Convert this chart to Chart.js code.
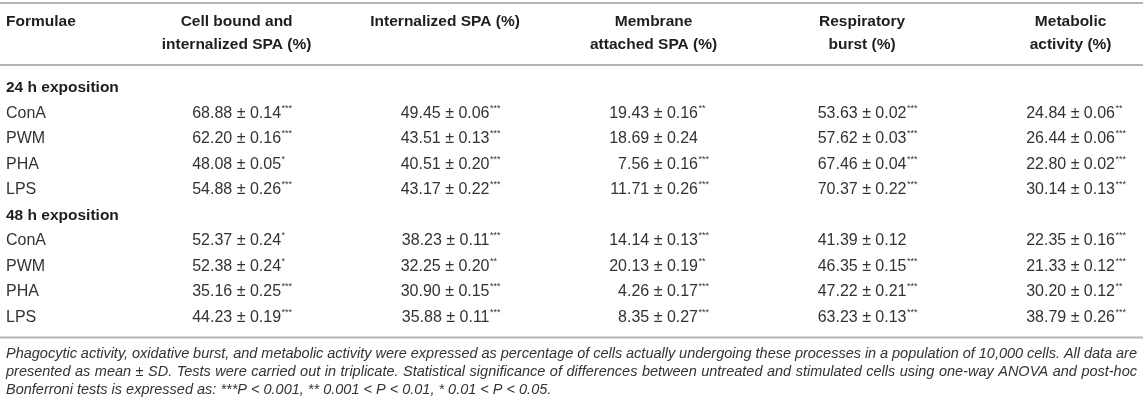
<!DOCTYPE html>
<html>
<head>
<meta charset="utf-8">
<script src="https://cdn.jsdelivr.net/npm/chart.js@4.4.1/dist/chart.umd.min.js"></script>
<style>
  html, body { margin: 0; padding: 0; background: #ffffff; }
  #wrap { width: 1143px; height: 414px; position: relative; }
</style>
</head>
<body>
<div id="wrap"><canvas id="c"></canvas></div>
<script>
// ---------------- DATA ----------------
const stubHeader = 'Formulae';
const rowLabels = ['24 h exposition', 'ConA', 'PWM', 'PHA', 'LPS',
                   '48 h exposition', 'ConA', 'PWM', 'PHA', 'LPS'];
const sectionRows = ['24 h exposition', '48 h exposition'];
const columnHeaders = [
  ['Cell bound and', 'internalized SPA (%)'],
  'Internalized SPA (%)',
  ['Membrane', 'attached SPA (%)'],
  ['Respiratory', 'burst (%)'],
  ['Metabolic', 'activity (%)']
];

// values per column (null = section heading row)
const cellBoundMean   = [null, 68.88, 62.20, 48.08, 54.88, null, 52.37, 52.38, 35.16, 44.23];
const cellBoundSD     = [null, 0.14, 0.16, 0.05, 0.26, null, 0.24, 0.24, 0.25, 0.19];
const cellBoundSig    = [null, '***', '***', '*', '***', null, '*', '*', '***', '***'];

const internalizedMean = [null, 49.45, 43.51, 40.51, 43.17, null, 38.23, 32.25, 30.90, 35.88];
const internalizedSD   = [null, 0.06, 0.13, 0.20, 0.22, null, 0.11, 0.20, 0.15, 0.11];
const internalizedSig  = [null, '***', '***', '***', '***', null, '***', '**', '***', '***'];

const membraneMean = [null, 19.43, 18.69, 7.56, 11.71, null, 14.14, 20.13, 4.26, 8.35];
const membraneSD   = [null, 0.16, 0.24, 0.16, 0.26, null, 0.13, 0.19, 0.17, 0.27];
const membraneSig  = [null, '**', '', '***', '***', null, '***', '**', '***', '***'];

const respiratoryMean = [null, 53.63, 57.62, 67.46, 70.37, null, 41.39, 46.35, 47.22, 63.23];
const respiratorySD   = [null, 0.02, 0.03, 0.04, 0.22, null, 0.12, 0.15, 0.21, 0.13];
const respiratorySig  = [null, '***', '***', '***', '***', null, '', '***', '***', '***'];

const metabolicMean = [null, 24.84, 26.44, 22.80, 30.14, null, 22.35, 21.33, 30.20, 38.79];
const metabolicSD   = [null, 0.06, 0.06, 0.02, 0.13, null, 0.16, 0.12, 0.12, 0.26];
const metabolicSig  = [null, '**', '***', '***', '***', null, '***', '***', '**', '***'];

const footnoteLines = [
  'Phagocytic activity, oxidative burst, and metabolic activity were expressed as percentage of cells actually undergoing these processes in a population of 10,000 cells. All data are',
  'presented as mean \u00b1 SD. Tests were carried out in triplicate. Statistical significance of differences between untreated and stimulated cells using one-way ANOVA and post-hoc',
  'Bonferroni tests is expressed as: ***P < 0.001, ** 0.001 < P < 0.01, * 0.01 < P < 0.05.'
];

// ---------------- STYLE ----------------
const FAMILY = '"Liberation Sans", Arial, Helvetica, sans-serif';
const BODY_COLOR = '#333333';
const HEAD_COLOR = '#1e1e1e';
const RULE_COLOR = '#b4b4b4';
const BODY_FONT = '16px ' + FAMILY;

const columns = [
  [cellBoundMean, cellBoundSD, cellBoundSig],
  [internalizedMean, internalizedSD, internalizedSig],
  [membraneMean, membraneSD, membraneSig],
  [respiratoryMean, respiratorySD, respiratorySig],
  [metabolicMean, metabolicSD, metabolicSig]
];

const datasets = columns.map(([mean, sd, sig], c) => ({
  label: Array.isArray(columnHeaders[c]) ? columnHeaders[c].join(' ') : columnHeaders[c],
  data: mean.map((m, r) => m === null ? null : {
    x: c, y: r,
    text: m.toFixed(2) + ' \u00b1 ' + sd[r].toFixed(2),
    sig: sig[r]
  }).filter(d => d !== null),
  pointRadius: 0,
  pointHoverRadius: 0,
  showLine: false
}));

const tablePlugin = {
  id: 'tableText',
  afterDatasetsDraw(chart) {
    const ctx = chart.ctx;
    const ys = chart.scales.y;
    const W = chart.width;
    ctx.save();
    // rules
    ctx.strokeStyle = RULE_COLOR;
    ctx.lineWidth = 2;
    const headRule = ys.getPixelForValue(0) - 23;
    const bottomRule = ys.getPixelForValue(rowLabels.length - 1) + 20;
    [3, headRule, bottomRule].forEach(y => {
      ctx.beginPath(); ctx.moveTo(0, y); ctx.lineTo(W, y); ctx.stroke();
    });
    // stub header
    ctx.fillStyle = HEAD_COLOR;
    ctx.font = 'bold 15.5px ' + FAMILY;
    ctx.textAlign = 'left';
    ctx.textBaseline = 'middle';
    ctx.fillText(stubHeader, 6, 22);
    // cells
    chart.data.datasets.forEach((ds, di) => {
      const meta = chart.getDatasetMeta(di);
      ctx.font = BODY_FONT;
      const maxW = Math.max(...ds.data.map(d => ctx.measureText(d.text).width));
      meta.data.forEach((el, i) => {
        const d = ds.data[i];
        const right = el.x + maxW / 2;
        ctx.fillStyle = BODY_COLOR;
        ctx.font = BODY_FONT;
        ctx.textAlign = 'right';
        ctx.textBaseline = 'middle';
        ctx.fillText(d.text, right, el.y);
        if (d.sig) {
          ctx.font = '9px ' + FAMILY;
          ctx.textAlign = 'left';
          ctx.fillText(d.sig, right + 0.5, el.y - 5);
        }
      });
    });
    // footnote
    ctx.fillStyle = BODY_COLOR;
    ctx.font = 'italic 14.5px ' + FAMILY;
    ctx.textAlign = 'left';
    ctx.textBaseline = 'middle';
    const left = 6, rightEdge = W - 6;
    footnoteLines.forEach((line, li) => {
      const y = bottomRule + 16 + li * 18;
      if (li < footnoteLines.length - 1) {
        const words = line.split(' ');
        const total = words.reduce((s, w) => s + ctx.measureText(w).width, 0);
        const gap = (rightEdge - left - total) / (words.length - 1);
        let x = left;
        words.forEach(w => { ctx.fillText(w, x, y); x += ctx.measureText(w).width + gap; });
      } else {
        ctx.fillText(line, left, y);
      }
    });
    ctx.restore();
  }
};

new Chart(document.getElementById('c'), {
  type: 'scatter',
  data: { datasets },
  options: {
    responsive: true,
    maintainAspectRatio: false,
    animation: false,
    events: [],
    layout: { padding: { left: 6, right: 57, top: 0, bottom: 96.5 } },
    plugins: { legend: { display: false }, tooltip: { enabled: false } },
    scales: {
      x: {
        type: 'linear',
        position: 'top',
        min: 0, max: columnHeaders.length - 1,
        grid: { display: false, drawTicks: false },
        border: { display: false },
        afterFit: s => { s.height = 88; },
        ticks: {
          stepSize: 1,
          autoSkip: false,
          maxRotation: 0,
          minRotation: 0,
          crossAlign: 'far',
          padding: 31.5,
          color: HEAD_COLOR,
          font: { family: FAMILY, size: 15.5, weight: 'bold', lineHeight: '23px' },
          callback: v => columnHeaders[v]
        }
      },
      y: {
        type: 'linear',
        reverse: true,
        min: 0, max: rowLabels.length - 1,
        grid: { display: false, drawTicks: false },
        border: { display: false },
        afterFit: s => { s.width = 230.6; },
        ticks: {
          stepSize: 1,
          autoSkip: false,
          crossAlign: 'far',
          color: ctx => sectionRows.includes(rowLabels[ctx.tick ? ctx.tick.value : ctx.index]) ? HEAD_COLOR : BODY_COLOR,
          font: ctx => ({
            family: FAMILY,
            size: sectionRows.includes(rowLabels[ctx.tick ? ctx.tick.value : ctx.index]) ? 15.5 : 16,
            weight: sectionRows.includes(rowLabels[ctx.tick ? ctx.tick.value : ctx.index]) ? 'bold' : 'normal'
          }),
          callback: v => rowLabels[v]
        }
      }
    }
  },
  plugins: [tablePlugin]
});
</script>
</body>
</html>
